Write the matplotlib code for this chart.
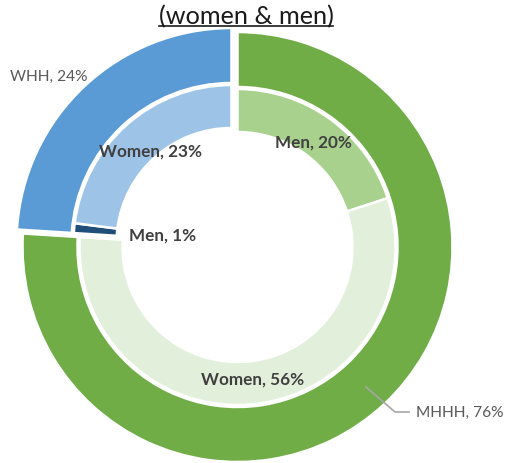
import matplotlib.pyplot as plt
from matplotlib.lines import Line2D

plt.rcParams['font.family'] = ['Lato', 'DejaVu Sans']

# outer ring: household heads
outer_labels = ['MHHH', 'WHH']
outer_values = [76, 24]
outer_colors = ['#70AD47', '#5B9BD5']

# inner ring: men / women within each household type
inner_labels = ['Men', 'Women', 'Men', 'Women']
inner_values = [20, 56, 1, 23]
inner_colors = ['#A9D18E', '#E2EFDA', '#1F4E79', '#9DC3E6']

W, H = 508, 464
fig = plt.figure(figsize=(W / 100, H / 100), dpi=100)
ax = fig.add_axes([0, 0, 1, 1])

cx, cy = 237.5, H - 248
shift = (-6, 4)  # blue (WHH) part pulled out a bit

wedges_o, _ = ax.pie(outer_values, colors=outer_colors, radius=215, center=(cx, cy),
                     startangle=90, counterclock=False,
                     wedgeprops=dict(width=55, edgecolor='white', linewidth=1.8))
wedges_i, _ = ax.pie(inner_values, colors=inner_colors, radius=158, center=(cx, cy),
                     startangle=90, counterclock=False,
                     wedgeprops=dict(width=43, edgecolor='white', linewidth=1.8))

# move the WHH pieces outward
for w in [wedges_o[1], wedges_i[2], wedges_i[3]]:
    w.set_center((cx + shift[0], cy + shift[1]))

ax.set_xlim(0, W)
ax.set_ylim(0, H)
ax.set_aspect('equal')
ax.axis('off')

# outer labels
ax.text(10, H - 77, f'{outer_labels[1]}, {outer_values[1]}%', fontsize=11.2,
        color='#595959', va='center', ha='left')
ax.text(416, H - 413, f'{outer_labels[0]}, {outer_values[0]}%', fontsize=11.2,
        color='#595959', va='center', ha='left')
ax.plot([366, 395, 409], [H - 388, H - 413, H - 413], color='#A6A6A6', lw=1.2)

# inner labels
inner_pos = [(313, 143), (253, 380), (163, 236), (150, 152)]
for lab, val, (x, y) in zip(inner_labels, inner_values, inner_pos):
    ax.text(x, H - y, f'{lab}, {val}%', fontsize=12.3, fontweight='bold',
            color='#404040', ha='center', va='center')

# title (top part cut off in the original)
t = fig.text(246 / W, 1 - 17 / H, '(women & men)', fontsize=18.2, color='#1a1a1a',
             ha='center', va='center')
fig.canvas.draw()
bb = t.get_window_extent().transformed(fig.transFigure.inverted())
fig.add_artist(Line2D([bb.x0, bb.x1], [bb.y0 + 1.5 / H, bb.y0 + 1.5 / H],
                     transform=fig.transFigure, color='#1a1a1a', lw=1.2))

fig.savefig('out.png', dpi=100)
